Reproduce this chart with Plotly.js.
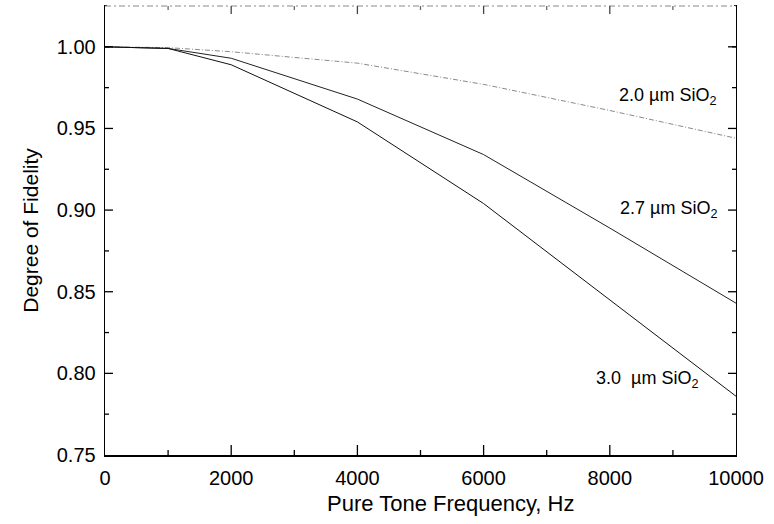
<!DOCTYPE html>
<html>
<head>
<meta charset="utf-8">
<script src="https://cdn.plot.ly/plotly-3.0.1.min.js"></script>
<style>html,body{margin:0;padding:0;background:#fff;}#chart{width:774px;height:524px;}</style>
</head>
<body>
<div id="chart"></div>
<script>
// Data
const frequency = [0, 1000, 2000, 4000, 6000, 8000, 10000];
const fidelity20 = [1.000, 0.9995, 0.997, 0.990, 0.977, 0.961, 0.944];
const fidelity27 = [1.000, 0.999, 0.993, 0.968, 0.934, 0.889, 0.843];
const fidelity30 = [1.000, 0.999, 0.989, 0.954, 0.904, 0.845, 0.786];
const seriesLabels = ["2.0 µm SiO<sub>2</sub>", "2.7 µm SiO<sub>2</sub>", "3.0  µm SiO<sub>2</sub>"];
const labelX = [9720, 9730, 9430];
const labelY = [0.9695, 0.9005, 0.7965];
const xMajor = [2000, 4000, 6000, 8000];
const xMinor = [1000, 3000, 5000, 7000, 9000];
const yMajor = [0.80, 0.85, 0.90, 0.95, 1.00];
const yMinor = [0.775, 0.825, 0.875, 0.925, 0.975, 1.0];

const font = "Liberation Sans, Arial, Helvetica, sans-serif";

const traces = [
  {x: frequency, y: fidelity20, mode: 'lines', line: {color: '#8a8a8a', width: 1, dash: '5px,2px,1px,2px'}, showlegend: false},
  {x: frequency, y: fidelity27, mode: 'lines', line: {color: '#222', width: 1}, showlegend: false},
  {x: frequency, y: fidelity30, mode: 'lines', line: {color: '#111', width: 1}, showlegend: false}
];

const annotations = seriesLabels.map((t, i) => ({
  x: labelX[i], y: labelY[i], xref: 'x', yref: 'y', text: t, showarrow: false,
  xanchor: 'right', yanchor: 'middle', font: {family: font, size: 18, color: '#000'}
}));
annotations.push({
  x: 0.547, y: -0.107, xref: 'paper', yref: 'paper', text: 'Pure Tone Frequency, Hz',
  showarrow: false, xanchor: 'center', yanchor: 'middle', font: {family: font, size: 22, color: '#000'}
});

// inside tick marks as pixel-sized shapes anchored on the axes
const shapes = [
  {type: 'line', xref: 'paper', yref: 'paper', x0: 0.003, x1: 0.997, y0: 1, y1: 1, layer: 'above',
   line: {color: '#fff', width: 2.5}},
  {type: 'line', xref: 'paper', yref: 'paper', x0: 0, x1: 1, y0: 1, y1: 1, layer: 'above',
   line: {color: '#888', width: 1, dash: '6px,3px,2px,3px'}}
];
function xTick(v, len, top, color) {
  shapes.push({type: 'line', layer: 'above', xref: 'x', yref: 'paper', ysizemode: 'pixel',
    yanchor: top ? 1 : 0, x0: v, x1: v, y0: 0, y1: top ? -len : len, line: {color: color, width: 1.3}});
}
function yTick(v, len, right, color) {
  shapes.push({type: 'line', layer: 'above', xref: 'paper', yref: 'y', xsizemode: 'pixel',
    xanchor: right ? 1 : 0, y0: v, y1: v, x0: 0, x1: right ? -len : len, line: {color: color, width: 1.3}});
}
xMajor.forEach(v => { xTick(v, 10, false, '#000'); xTick(v, 8, true, '#444'); });
xMinor.forEach(v => { xTick(v, 5, false, '#000'); xTick(v, 4, true, '#666'); });
yMajor.forEach(v => { yTick(v, 8, false, '#000'); yTick(v, 8, true, '#000'); });
yMinor.forEach(v => { yTick(v, 4, false, '#000'); yTick(v, 4, true, '#000'); });

const layout = {
  width: 774, height: 524,
  margin: {l: 105, r: 38, t: 6, b: 69},
  paper_bgcolor: '#fff', plot_bgcolor: '#fff',
  font: {family: font, color: '#000'},
  xaxis: {
    range: [0, 10000], tickmode: 'linear', tick0: 0, dtick: 2000, tickformat: 'd',
    showgrid: false, zeroline: false, showline: true, mirror: true, linecolor: '#000', linewidth: 1.5,
    ticks: '', tickfont: {family: font, size: 20, color: '#000'}, ticklabelstandoff: 4
  },
  yaxis: {
    range: [0.75, 1.025], tickmode: 'linear', tick0: 0.75, dtick: 0.05, tickformat: '.2f',
    showgrid: false, zeroline: false, showline: true, mirror: true, linecolor: '#000', linewidth: 1.3,
    ticks: '', tickfont: {family: font, size: 20, color: '#000'}, ticklabelstandoff: 4,
    title: {text: 'Degree of Fidelity', font: {family: font, size: 21, color: '#000'}, standoff: 12}
  },
  shapes: shapes,
  annotations: annotations
};

Plotly.newPlot('chart', traces, layout, {staticPlot: true, displayModeBar: false});
</script>
</body>
</html>
